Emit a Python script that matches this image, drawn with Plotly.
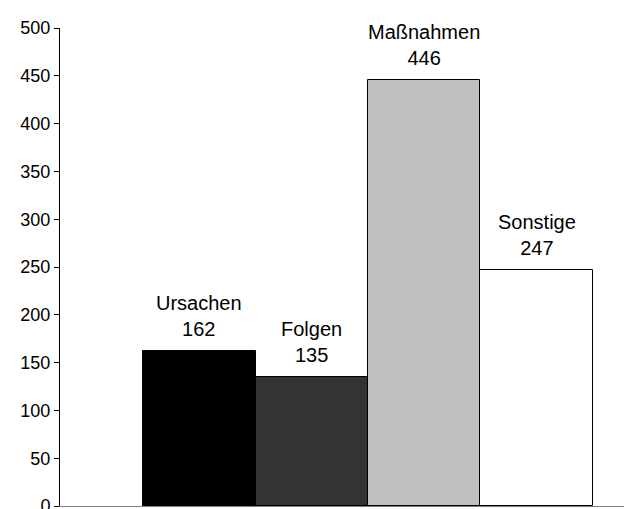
import plotly.graph_objects as go

categories = ["Ursachen", "Folgen", "Maßnahmen", "Sonstige"]
values = [162, 135, 446, 247]
colors = ["#000000", "#333333", "#c0c0c0", "#ffffff"]
y_ticks = [0, 50, 100, 150, 200, 250, 300, 350, 400, 450, 500]

xpos = list(range(len(categories)))

fig = go.Figure()
fig.add_trace(go.Bar(
    x=xpos, y=values, width=1.0,
    marker=dict(color=colors, line=dict(color="#000000", width=1)),
    hoverinfo="skip", showlegend=False,
))

for xi, cat, v in zip(xpos, categories, values):
    fig.add_annotation(
        x=xi, y=v, text=f"{cat}<br>{v}", showarrow=False,
        yanchor="bottom", yshift=9,
        font=dict(family="Liberation Sans, Arial, sans-serif", size=20, color="#000"),
    )

fig.update_layout(
    width=624, height=501,
    margin=dict(l=52, r=0, t=20, b=3, autoexpand=False),
    paper_bgcolor="white", plot_bgcolor="white",
    font=dict(family="Liberation Sans, Arial, sans-serif", size=18, color="#000"),
    bargap=0,
)
fig.update_xaxes(
    range=[-1.238, 3.847], showgrid=False, zeroline=False,
    showticklabels=False, ticks="", showline=True, linecolor="#808080", linewidth=1,
)
fig.update_yaxes(
    range=[0, 500], tickvals=y_ticks, ticktext=[str(t) for t in y_ticks],
    showgrid=False, zeroline=False, ticks="outside", ticklen=5, tickcolor="#000",
    showline=True, linecolor="#000", linewidth=1, ticklabeloverflow="allow",
)

fig.write_html("out.html")
